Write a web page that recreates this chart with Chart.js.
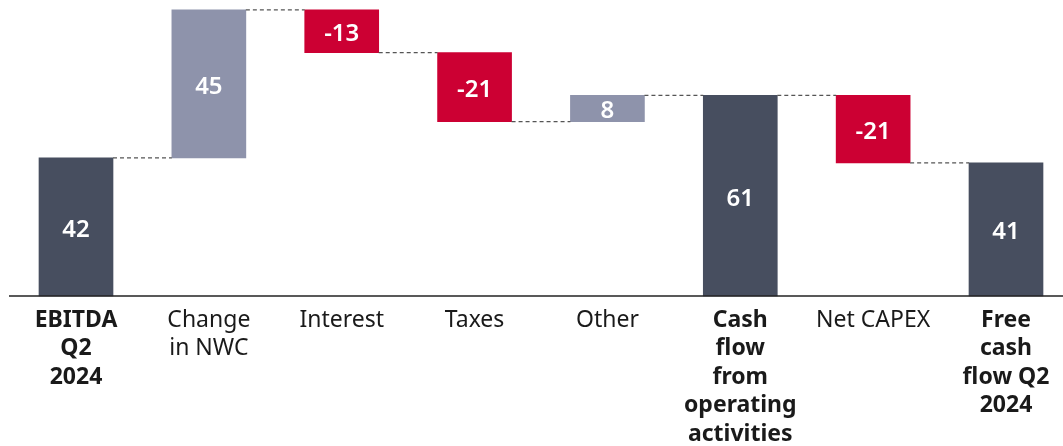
<!DOCTYPE html>
<html>
<head>
<meta charset="utf-8">
<script src="https://cdn.jsdelivr.net/npm/chart.js@4.4.1/dist/chart.umd.min.js"></script>
<style>
  html, body { margin: 0; padding: 0; background: #fff; }
  #wrap { width: 1063px; height: 446px; position: relative; }
</style>
</head>
<body>
<div id="wrap"><canvas id="flowChart"></canvas></div>
<script>
'use strict';

// Categories, one array per label line
const categories = [
  ['EBITDA', 'Q2', '2024'],
  ['Change', 'in NWC'],
  ['Interest'],
  ['Taxes'],
  ['Other'],
  ['Cash', 'flow', 'from', 'operating', 'activities'],
  ['Net CAPEX'],
  ['Free', 'cash', 'flow Q2', '2024']
];

// Step sizes, null means "subtotal bar from zero"
const steps = [42, 45, -13, -21, 8, null, -20.5, null];

// Kind of each bar (used for colour and bold labels)
const kinds = ['total', 'up', 'down', 'down', 'up', 'total', 'down', 'total'];

// Numbers printed on the bars
const shownValues = ['42', '45', '-13', '-21', '8', '61', '-21', '41'];

const colours = { total: '#474e5f', up: '#8e93ab', down: '#cc0033' };

// Build floating ranges [from, to] for the waterfall
function buildRanges() {
  const ranges = [];
  let running = 0;
  steps.forEach(step => {
    if (step === null) {
      ranges.push([0, running]);
    } else {
      const start = running;
      running += step;
      ranges.push([start, running]);
    }
  });
  return ranges;
}

const ranges = buildRanges();
const fontFamily = '"Noto Sans", "Open Sans", sans-serif';

// Draws the dashed connectors, baseline and the value labels
const waterfallExtras = {
  id: 'waterfallExtras',
  afterDatasetsDraw(chart) {
    const ctx = chart.ctx;
    const meta = chart.getDatasetMeta(0);
    const y = chart.scales.y;

    ctx.save();
    // connectors
    ctx.strokeStyle = '#555';
    ctx.lineWidth = 1.3;
    ctx.setLineDash([4, 3]);
    for (let i = 0; i < meta.data.length - 1; i++) {
      const a = meta.data[i];
      const b = meta.data[i + 1];
      const level = y.getPixelForValue(ranges[i][1]);
      ctx.beginPath();
      ctx.moveTo(a.x + a.width / 2, level);
      ctx.lineTo(b.x - b.width / 2, level);
      ctx.stroke();
    }
    ctx.setLineDash([]);

    // baseline
    const zero = y.getPixelForValue(0);
    ctx.strokeStyle = '#222';
    ctx.lineWidth = 1.5;
    ctx.beginPath();
    ctx.moveTo(9, zero);
    ctx.lineTo(chart.width, zero);
    ctx.stroke();

    // value labels
    ctx.fillStyle = '#ffffff';
    ctx.font = '600 24px ' + fontFamily;
    ctx.textAlign = 'center';
    ctx.textBaseline = 'middle';
    meta.data.forEach((bar, i) => {
      ctx.fillText(shownValues[i], bar.x, (bar.y + bar.base) / 2 + 3);
    });
    ctx.restore();
  }
};

const ctx = document.getElementById('flowChart').getContext('2d');
new Chart(ctx, {
  type: 'bar',
  data: {
    labels: categories,
    datasets: [{
      data: ranges,
      backgroundColor: kinds.map(k => colours[k]),
      barThickness: 74,
      borderSkipped: false,
      clip: false
    }]
  },
  options: {
    responsive: true,
    maintainAspectRatio: false,
    animation: false,
    layout: { padding: { left: 76, right: 57, top: 0, bottom: 0 } },
    plugins: {
      legend: { display: false },
      tooltip: { enabled: false }
    },
    scales: {
      x: {
        offset: false,
        grid: { display: false, drawTicks: false },
        border: { display: false },
        afterFit(scale) { scale.height = 150; },
        ticks: {
          autoSkip: false,
          maxRotation: 0,
          padding: 10,
          color: '#1a1a1a',
          font: c => ({
            family: fontFamily,
            size: 23,
            lineHeight: 1.24,
            weight: kinds[c.index] === 'total' ? 'bold' : 'normal'
          })
        }
      },
      y: {
        display: false,
        min: 0,
        max: 90
      }
    }
  },
  plugins: [waterfallExtras]
});
</script>
</body>
</html>
